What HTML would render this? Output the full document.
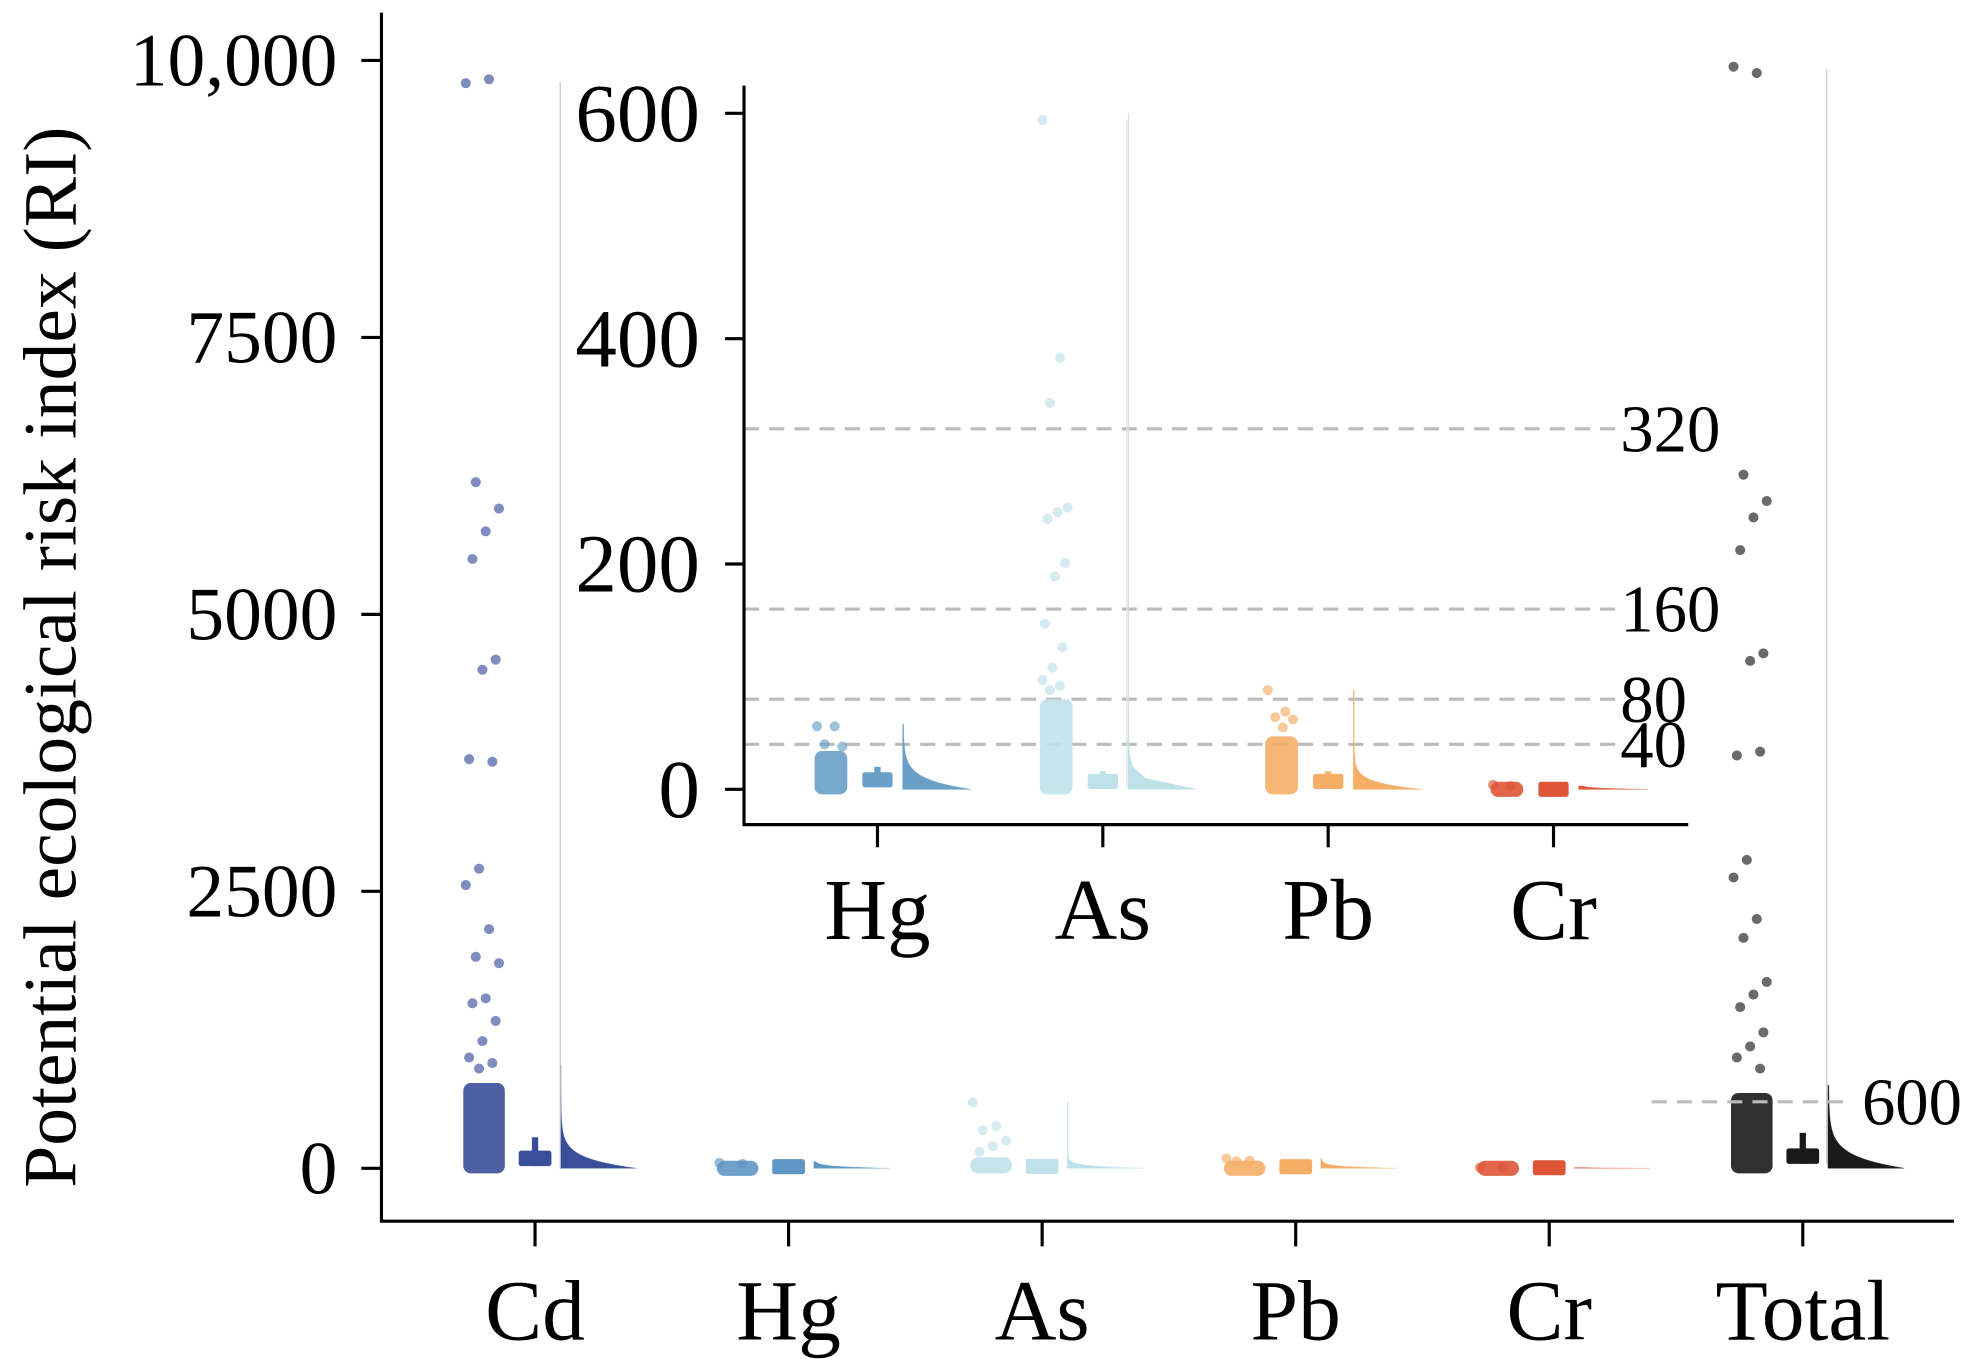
<!DOCTYPE html>
<html><head><meta charset="utf-8"><style>
html,body{margin:0;padding:0;background:#fff}
svg{display:block}
text{font-family:"Liberation Serif",serif;fill:#000}
</style></head><body>
<svg id="chart" width="1974" height="1371" viewBox="0 0 1568 1089" preserveAspectRatio="none" xmlns="http://www.w3.org/2000/svg">
<g id="main"></g>
<g id="inset"></g>
</svg>
<script>
// ---- main chart data ----
const categories = ["Cd","Hg","As","Pb","Cr","Total"];
const colors = ["#3a4f9a","#5f97c4","#bfe1ea","#f5ae66","#df5538","#1a1a1a"];
const mainTicks = [0,2500,5000,7500,10000];
const mainTickLabels = ["0","2500","5000","7500","10,000"];
const cdOutliers = [9795,9830,6193,5955,5750,5500,4591,4500,3693,3670,2705,2557,2159,1909,1852,1534,1489,1330,1148,1000,950,900];
const hgOutliers = [50,40];
const asOutliers = [594,383,343,250,200,150];
const pbOutliers = [88,69,64];
const crOutliers = [6,4];
const totalOutliers = [9943,9886,6261,6023,5875,5580,4648,4580,3727,3761,2784,2625,2250,2080,1682,1568,1455,1227,1100,1000,900];
const mainOutliers = [cdOutliers,hgOutliers,asOutliers,pbOutliers,crOutliers,totalOutliers];
const mainDenseTop = [770,35,100,50,8,680];
const mainBoxQ1 = [20,5,5,5,2,40];
const mainBoxQ3 = [160,25,30,25,8,180];
const mainWhiskerTop = [280,60,70,60,15,320];
const mainViolinMax = [930,60,600,90,6,750];
const mainViolinDecay = [90,15,20,15,3,110];
// ---- inset data ----
const insetCats = ["Hg","As","Pb","Cr"];
const insetColors = ["#6a9fc8","#bfe1ea","#f5ae66","#df5538"];
const insetTicks = [0,200,400,600];
const insetOutliers = [[56,56,40,38],[594,383,343,250,246,240,201,189,147,126,108,97,92,88],[88,69,64,62,55],[4,3]];
const insetDenseTop = [34,80,47,3];
const insetBoxQ1 = [3,2,2,-3];
const insetBoxQ3 = [14,12,12,3];
const insetWhiskerTop = [20,16,16,5];
const insetViolinMax = [58,600,88,3];
const insetViolinDecay = [9,7,6,1];
const thresholds = [40,80,160,320];

const NS="http://www.w3.org/2000/svg";
function mk(tag,attrs,parent){const e=document.createElementNS(NS,tag);for(const k in attrs)e.setAttribute(k,attrs[k]);parent.appendChild(e);return e;}

// ---------- MAIN ----------
const M=document.getElementById('main');
const yM=v=>928-v*0.088;
const xM=i=>425+i*201.4;
let e;
e=mk('line',{x1:303,y1:10,x2:303,y2:971,stroke:'#000','stroke-width':2.5},M);


e=mk('line',{x1:302,y1:970,x2:1552,y2:970,stroke:'#000','stroke-width':2.5},M);


mainTicks.forEach((t,i)=>{
  mk('line',{x1:287,y1:yM(t),x2:303,y2:yM(t),stroke:'#000','stroke-width':2.5},M);
  e=mk('text',{x:268,y:yM(t)+20,'text-anchor':'end','font-size':60},M);
  e.textContent=mainTickLabels[i];
  
  
});
e=mk('text',{x:0,y:0,'text-anchor':'middle','font-size':60,transform:'translate(60,522) rotate(-90)'},M);
e.textContent='Potential ecological risk index (RI)';



function violin(g,x0,yF,vmax,decay,peak,color){
  const baseY=yF(0);
  let d=`M${x0},${baseY}`;
  for(let k=0;k<=60;k++){const v=vmax*k/60;const w=peak*Math.exp(-v/decay)+0.6;d+=` L${x0+w},${yF(v)}`;}
  d+=` L${x0},${yF(vmax)} Z`;
  mk('path',{d:d,fill:color,stroke:color,'stroke-width':0.6,'stroke-opacity':0.5},g);
}

function cloud(g,cx,yF,outs,dense,q1,q3,wt,vmax,decay,color,spread,vpeak,boxW){
  const grp=mk('g',{},g);
  let yt=yF(dense), yb=yF(0)+4;
  if(yb-yt<12){const m=yF(0);yt=m-6;yb=m+6;}
  mk('rect',{x:cx-spread-2,y:yt,width:spread-22,height:yb-yt,rx:6,fill:color,opacity:0.9},grp);
  outs.forEach((v,j)=>{
    const ox=cx-spread+((j*7)%11)/11*(spread-26);
    mk('circle',{cx:ox,cy:yF(v),r:4,fill:color,opacity:0.65},grp);
  });
  mk('line',{x1:cx,y1:yF(wt),x2:cx,y2:yF(q1),stroke:color,'stroke-width':5},grp);
  let bt=yF(q3), bb=yF(q1);
  if(bb-bt<12){const m=(bt+bb)/2;bt=m-6;bb=m+6;}
  mk('rect',{x:cx-boxW/2,y:bt,width:boxW,height:bb-bt,rx:2,fill:color},grp);
  violin(grp,cx+20,yF,vmax,decay,vpeak,color);
  return grp;
}
categories.forEach((c,i)=>{
  const cx=xM(i);
  const g=cloud(M,cx,yM,mainOutliers[i],mainDenseTop[i],mainBoxQ1[i],mainBoxQ3[i],mainWhiskerTop[i],mainViolinMax[i],mainViolinDecay[i],colors[i],55,60,26);
  
  
  mk('line',{x1:cx,y1:970,x2:cx,y2:990,stroke:'#000','stroke-width':2.5},M);
  e=mk('text',{x:cx,y:1064,'text-anchor':'middle','font-size':68},M);
  e.textContent=c;
  
  
});
mk('line',{x1:445,y1:65,x2:445,y2:928,stroke:'#c8c8c8','stroke-width':1},M);
mk('line',{x1:1451,y1:55,x2:1451,y2:925,stroke:'#c8c8c8','stroke-width':1},M);
e=mk('line',{x1:1312,y1:yM(600),x2:1472,y2:yM(600),stroke:'#bbb','stroke-width':2.5,'stroke-dasharray':'12,8'},M);


e=mk('text',{x:1479,y:yM(600)+18,'font-size':53},M);
e.textContent='600';



// ---------- INSET ----------
const I=document.getElementById('inset');
const yI=v=>627-v*0.895;
const xI=i=>697+i*179;
mk('rect',{x:592,y:65,width:750,height:589,fill:'#fff'},I);
thresholds.forEach(t=>{
  e=mk('line',{x1:591,y1:yI(t),x2:1285,y2:yI(t),stroke:'#bbb','stroke-width':2.5,'stroke-dasharray':'12,8'},I);
  
  
  e=mk('text',{x:1287,y:yI(t)+18,'font-size':53},I);
  e.textContent=String(t);
  
  
});
mk('line',{x1:895,y1:95,x2:895,y2:625,stroke:'#e3e3e3','stroke-width':1},I);
insetCats.forEach((c,i)=>{
  const cx=xI(i);
  const g=cloud(I,cx,yI,insetOutliers[i],insetDenseTop[i],insetBoxQ1[i],insetBoxQ3[i],insetWhiskerTop[i],insetViolinMax[i],insetViolinDecay[i],insetColors[i],48,54,24);
  
  
  mk('line',{x1:cx,y1:655,x2:cx,y2:673,stroke:'#000','stroke-width':2.5},I);
  e=mk('text',{x:cx,y:746,'text-anchor':'middle','font-size':69},I);
  e.textContent=c;
  
  
});
e=mk('line',{x1:591,y1:68,x2:591,y2:656,stroke:'#000','stroke-width':2.5},I);


e=mk('line',{x1:590,y1:655,x2:1341,y2:655,stroke:'#000','stroke-width':2.5},I);


insetTicks.forEach(t=>{
  mk('line',{x1:576,y1:yI(t),x2:591,y2:yI(t),stroke:'#000','stroke-width':2.5},I);
  e=mk('text',{x:556,y:yI(t)+22,'text-anchor':'end','font-size':66},I);
  e.textContent=String(t);
  
  
});
</script>
</body></html>
